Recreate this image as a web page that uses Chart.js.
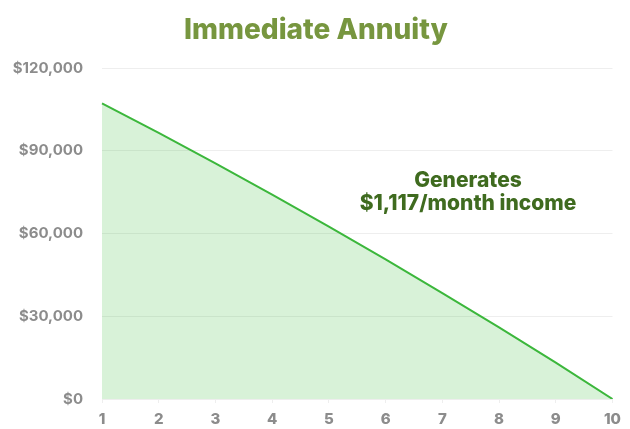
<!DOCTYPE html>
<html>
<head>
<meta charset="utf-8">
<script src="https://cdn.jsdelivr.net/npm/chart.js@4.4.0/dist/chart.umd.min.js"></script>
<style>
  html, body { margin: 0; padding: 0; background: #ffffff; }
  #wrap { width: 630px; height: 429px; }
</style>
</head>
<body>
<div id="wrap"><canvas id="c" width="630" height="429"></canvas></div>
<script>
const years = ['1', '2', '3', '4', '5', '6', '7', '8', '9', '10'];
const balance = [107200, 96500, 85400, 74100, 62500, 50600, 38400, 26000, 13200, 0];
const yTicks = [0, 30000, 60000, 90000, 120000];
const titleText = 'Immediate Annuity';
const noteLines = ['Generates', '$1,117/month income'];

const FONT = 'Inter, "Open Sans", sans-serif';

const textPlugin = {
  id: 'texts',
  afterDraw(chart) {
    const ctx = chart.ctx;
    ctx.save();
    ctx.textAlign = 'center';
    ctx.fillStyle = '#77963f';
    ctx.font = '800 28px ' + FONT;
    ctx.textBaseline = 'alphabetic';
    ctx.fillText(titleText, 316, 39);
    ctx.fillStyle = '#3f6b1f';
    ctx.font = '800 21px ' + FONT;
    ctx.textBaseline = 'middle';
    ctx.fillText(noteLines[0], 468, 181);
    ctx.fillText(noteLines[1], 468, 204);
    ctx.restore();
  }
};

new Chart(document.getElementById('c'), {
  type: 'line',
  data: {
    labels: years,
    datasets: [{
      data: balance,
      borderColor: '#3cb73c',
      backgroundColor: 'rgba(60,190,60,0.2)',
      borderWidth: 2,
      fill: 'origin',
      pointRadius: 0,
      tension: 0
    }]
  },
  options: {
    responsive: false,
    animation: false,
    devicePixelRatio: 1,
    layout: { padding: { left: 0, right: 14, top: 68, bottom: 0 } },
    plugins: {
      legend: { display: false },
      tooltip: { enabled: false },
      title: { display: false }
    },
    scales: {
      x: {
        offset: false,
        afterFit(scale) { scale.height = 30; },
        grid: { display: true, drawOnChartArea: false, drawTicks: true, tickLength: 4, color: '#eeeeee' },
        border: { display: true, color: '#eeeeee' },
        ticks: { color: '#8c8c8c', font: { family: FONT, size: 15, weight: '800', lineHeight: 1 }, padding: 9, maxRotation: 0 }
      },
      y: {
        min: 0,
        max: 120000,
        afterBuildTicks(scale) { scale.ticks = yTicks.map(v => ({ value: v })); },
        afterFit(scale) { scale.width = 102; },
        grid: { color: '#eeeeee', drawTicks: false },
        border: { display: false },
        ticks: {
          color: '#8c8c8c',
          font: { family: FONT, size: 15, weight: '700' },
          padding: 19,
          callback: v => '$' + v.toLocaleString('en-US')
        }
      }
    }
  },
  plugins: [textPlugin]
});
</script>
</body>
</html>
